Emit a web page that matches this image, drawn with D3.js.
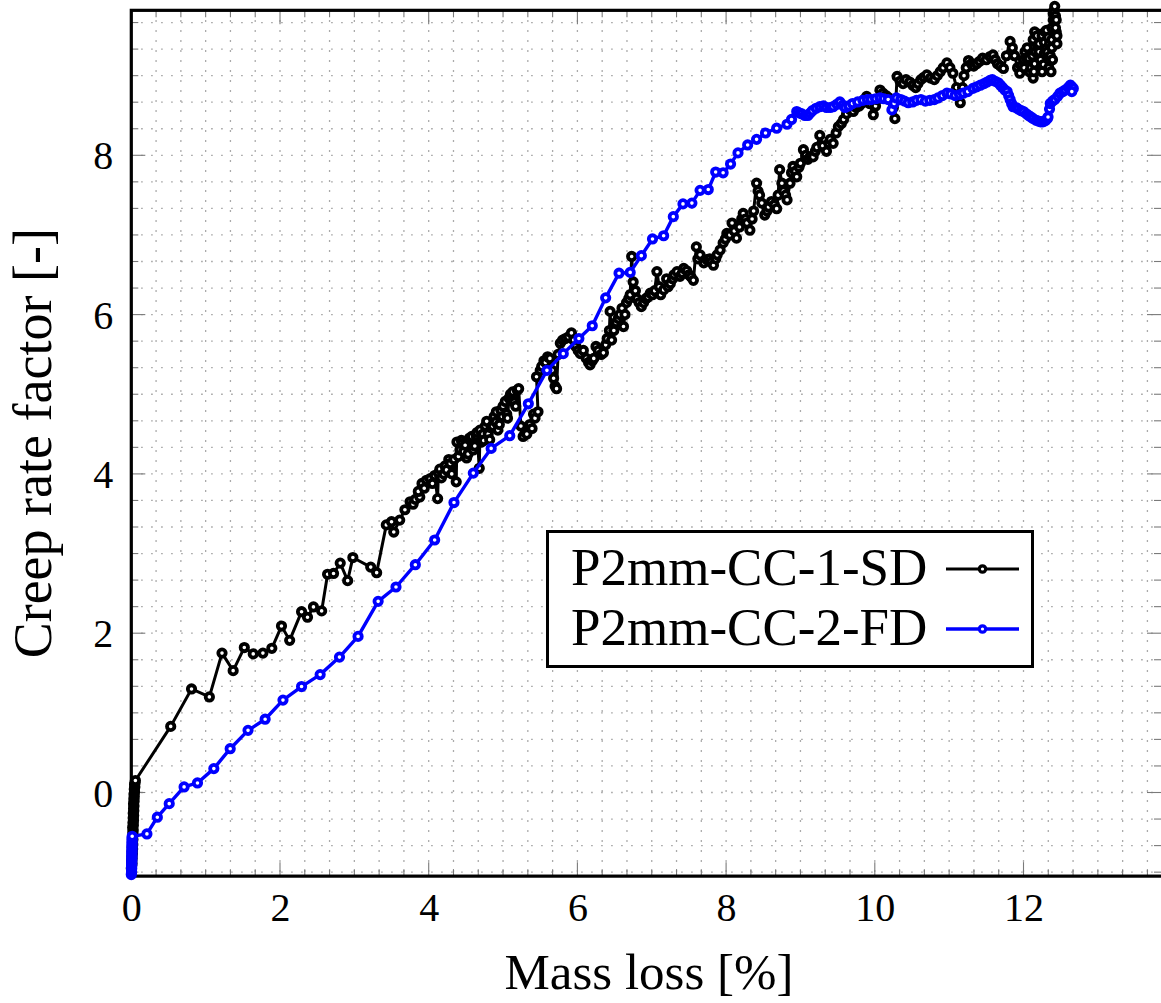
<!DOCTYPE html>
<html><head><meta charset="utf-8">
<script src="https://cdn.jsdelivr.net/npm/d3@7"></script>
<style>
html,body{margin:0;padding:0;background:#fff;}
svg{display:block;}
text{font-family:"Liberation Serif","Times New Roman",serif;fill:#000;}
</style></head>
<body>
<svg id="chart" width="1161" height="1003"></svg>
<script>
// ---------- data ----------
const seriesNames = ["P2mm-CC-1-SD", "P2mm-CC-2-FD"];
const seriesColors = ["#000000", "#0000ff"];
const xTickValues = [0, 2, 4, 6, 8, 10, 12];
const yTickValues = [0, 2, 4, 6, 8];
const xLabel = "Mass loss [%]";
const yLabel = "Creep rate factor [-]";

// Series 1 (black): [mass loss %, creep rate factor]
const sdPoints = [
[0,-0.95],[0.005,-0.92],[0.01,-0.89],[0.004,-0.86],[0.012,-0.83],[0.008,-0.80],[0.015,-0.77],[0.01,-0.74],[0.018,-0.71],[0.012,-0.68],[0.02,-0.65],[0.015,-0.62],[0.022,-0.59],[0.016,-0.56],[0.024,-0.53],[0.02,-0.50],[0.026,-0.47],[0.018,-0.44],[0.028,-0.41],[0.022,-0.38],[0.03,-0.35],[0.025,-0.32],[0.032,-0.29],[0.026,-0.26],[0.034,-0.23],[0.03,-0.20],[0.036,-0.17],[0.03,-0.14],[0.038,-0.11],[0.034,-0.08],[0.04,-0.05],[0.036,-0.02],[0.044,0.01],[0.04,0.04],[0.048,0.07],[0.044,0.10],[0.05,0.12],[0.055,0.15],
[0.53,0.83],[0.81,1.30],[1.05,1.20],[1.22,1.75],[1.37,1.53],[1.52,1.82],[1.64,1.74],[1.77,1.75],[1.89,1.81],[2.02,2.09],[2.13,1.91],[2.29,2.27],[2.37,2.20],[2.45,2.33],[2.56,2.28],[2.64,2.74],[2.72,2.75],[2.81,2.88],[2.91,2.66],[2.98,2.95],[3.22,2.83],[3.30,2.76],[3.43,3.36],[3.50,3.40],[3.53,3.27],[3.61,3.42],
[3.68,3.55],[3.75,3.65],[3.79,3.62],[3.82,3.68],[3.88,3.71],[3.86,3.78],[3.91,3.88],[3.94,3.82],[3.97,3.92],[4.02,3.94],[4.05,3.88],[4.08,3.98],[4.12,3.69],[4.13,4.01],[4.15,4.06],[4.17,3.95],[4.20,4.00],[4.22,4.10],[4.24,4.05],[4.27,4.18],[4.29,4.13],[4.31,4.0],[4.34,4.18],[4.37,3.90],[4.38,4.40],[4.40,4.22],[4.42,4.30],[4.44,4.42],[4.45,4.38],[4.47,4.28],[4.49,4.36],[4.51,4.20],[4.53,4.25],[4.55,4.45],[4.58,4.47],[4.60,4.30],[4.62,4.35],[4.64,4.48],[4.65,4.52],[4.68,4.07],[4.69,4.55],[4.71,4.40],[4.73,4.50],[4.74,4.42],[4.76,4.60],[4.78,4.66],[4.80,4.50],[4.82,4.43],[4.84,4.58],[4.86,4.60],[4.88,4.72],[4.90,4.65],[4.91,4.78],[4.93,4.55],[4.95,4.62],[4.97,4.80],[4.99,4.72],[5.00,4.85],[5.03,4.91],[5.05,4.75],[5.06,4.70],[5.08,4.95],[5.10,5.00],[5.12,4.92],[5.13,5.03],[5.15,4.90],[5.17,4.85],[5.19,5.05],[5.21,5.07],[5.24,4.60],[5.27,4.47],[5.30,4.52],[5.32,4.50],[5.36,4.62],[5.39,4.57],[5.41,4.75],[5.43,4.70],[5.47,4.78],[5.45,5.22],[5.50,5.30],[5.52,5.35],[5.55,5.42],[5.57,5.40],[5.60,5.47],[5.63,5.45],[5.66,5.30],[5.68,5.20],[5.70,5.10],[5.72,5.07],[5.74,5.50],[5.77,5.64],[5.80,5.68],[5.84,5.70],[5.88,5.72],[5.92,5.77],[5.95,5.68],[5.98,5.60],[6.01,5.55],[6.04,5.51],[6.08,5.55],[6.12,5.45],[6.15,5.40],[6.17,5.37],[6.20,5.42],[6.22,5.45],[6.25,5.60],[6.28,5.55],[6.32,5.50],[6.35,5.52],[6.38,5.62],[6.40,5.70],[6.43,5.80],[6.44,6.04],[6.46,5.68],[6.49,5.80],[6.52,5.90],[6.55,5.95],[6.57,6.00],[6.60,6.08],[6.62,5.85],[6.64,6.00],[6.66,6.15],[6.69,6.20],[6.71,6.25],[6.73,6.73],[6.75,6.41],[6.78,6.30],[6.80,6.20],[6.83,6.15],[6.86,6.10],[6.89,6.15],[6.92,6.20],[6.95,6.22],[6.98,6.27],[7.01,6.25],[7.04,6.30],[7.07,6.54],[7.10,6.35],[7.12,6.25],[7.16,6.31],[7.20,6.45],[7.22,6.35],[7.25,6.39],[7.28,6.45],[7.30,6.50],[7.34,6.54],[7.38,6.48],[7.41,6.52],[7.43,6.58],[7.47,6.55],[7.50,6.50],[7.53,6.47],[7.56,6.43],[7.60,6.85],[7.62,6.70],[7.65,6.75],[7.70,6.65],[7.74,6.69],[7.78,6.70],[7.80,6.66],[7.83,6.62],[7.86,6.70],[7.88,6.75],[7.92,6.81],[7.96,6.90],[7.99,6.95],[8.01,7.02],[8.05,7.00],[8.08,7.15],[8.11,7.05],[8.14,6.96],[8.18,7.10],[8.21,7.20],[8.23,7.27],[8.26,7.20],[8.28,7.15],[8.32,7.06],[8.35,7.20],[8.37,7.30],[8.41,7.65],[8.43,7.55],[8.45,7.50],[8.48,7.40],[8.52,7.25],[8.55,7.30],[8.57,7.35],[8.61,7.42],[8.65,7.38],[8.68,7.33],[8.70,7.50],[8.72,7.82],[8.75,7.65],[8.77,7.55],[8.80,7.50],[8.82,7.44],[8.86,7.65],[8.88,7.78],[8.90,7.86],[8.93,7.80],[8.95,7.73],[8.98,7.85],[9.00,7.90],[9.04,8.07],[9.07,8.00],[9.10,7.95],[9.13,7.98],[9.17,7.98],[9.20,8.05],[9.22,8.10],[9.26,8.25],[9.30,8.12],[9.35,8.05],[9.38,8.15],[9.40,8.20],[9.44,8.15],[9.48,8.28],[9.51,8.36],[9.55,8.40],[9.58,8.45],[9.62,8.52],[9.67,8.57],[9.71,8.55],[9.75,8.60],[9.79,8.62],[9.82,8.65],[9.86,8.70],[9.89,8.74],[9.93,8.65],[9.98,8.51],[10.01,8.62],[10.03,8.70],[10.07,8.82],[10.11,8.78],[10.15,8.75],[10.19,8.72],[10.22,8.70],[10.25,8.60],[10.27,8.46],[10.30,8.99],[10.34,8.93],[10.38,8.90],[10.42,8.95],[10.47,8.92],[10.51,8.88],[10.55,8.85],[10.58,8.90],[10.62,8.95],[10.66,8.98],[10.70,9.01],[10.75,8.97],[10.80,8.95],[10.84,9.00],[10.88,9.05],[10.92,9.10],[10.97,9.16],[11.01,9.10],[11.05,9.03],[11.10,8.85],[11.15,8.66],[11.18,8.85],[11.20,9.00],[11.23,9.10],[11.26,9.19],[11.30,9.15],[11.33,9.12],[11.37,9.15],[11.41,9.18],[11.45,9.22],[11.50,9.20],[11.55,9.24],[11.59,9.26],[11.62,9.20],[11.65,9.15],[11.69,9.12],[11.73,9.09],[11.77,9.25],[11.82,9.43],[11.85,9.35],[11.88,9.25],[11.92,9.10],[11.95,9.03],[11.97,9.12],[12.00,9.20],[12.01,9.10],[12.02,9.30],[12.04,9.22],[12.05,9.35],[12.07,9.22],[12.08,9.05],[12.10,9.10],[12.12,9.25],[12.13,8.97],[12.14,9.05],[12.15,9.15],[12.16,9.30],[12.18,9.40],[12.20,9.45],[12.21,9.30],[12.23,9.20],[12.24,9.12],[12.25,9.05],[12.27,9.14],[12.28,9.28],[12.30,9.35],[12.26,9.45],[12.22,9.52],[12.17,9.48],[12.13,9.45],[12.15,9.55],[12.18,9.50],[12.21,9.40],[12.25,9.50],[12.28,9.42],[12.29,9.55],[12.31,9.57],[12.32,9.30],[12.33,9.48],[12.34,9.20],[12.35,9.40],[12.36,9.25],[12.34,9.10],[12.37,9.05],[12.39,9.20],[12.38,9.35],[12.38,9.45],[12.38,9.60],[12.40,9.70],[12.40,9.78],[12.41,9.82],[12.42,9.87],[12.43,9.75],[12.44,9.55],[12.45,9.40],[12.43,9.60],[12.44,9.70],[12.45,9.50]
];

// Series 2 (blue): [mass loss %, creep rate factor]
const fdPoints = [
[0,-1.03],[0.002,-1.01],[0.004,-0.99],[0.003,-0.97],[0.006,-0.95],[0.004,-0.93],[0.005,-0.91],[0.007,-0.89],[0.005,-0.87],[0.008,-0.85],[0.006,-0.83],[0.007,-0.81],[0.009,-0.79],[0.007,-0.77],[0.008,-0.75],[0.01,-0.73],[0.008,-0.71],[0.009,-0.69],[0.011,-0.67],[0.009,-0.65],[0.01,-0.63],[0.012,-0.61],[0.01,-0.59],[0.011,-0.57],[0.012,-0.55],
[0.21,-0.52],[0.35,-0.31],[0.51,-0.14],[0.71,0.07],[0.89,0.12],[1.11,0.30],[1.33,0.55],[1.57,0.78],[1.80,0.92],[2.04,1.16],[2.29,1.33],[2.54,1.48],[2.80,1.70],[3.05,1.96],[3.32,2.40],[3.56,2.58],[3.82,2.86],[4.08,3.17],[4.34,3.64],[4.60,4.01],[4.84,4.32],[5.09,4.48],[5.34,4.88],[5.59,5.30],[5.81,5.51],[6.02,5.70],[6.20,5.86],[6.38,6.21],[6.56,6.52],[6.71,6.53],[6.86,6.74],[7.01,6.95],[7.16,6.99],[7.29,7.23],[7.42,7.39],[7.54,7.40],[7.65,7.56],[7.76,7.57],[7.86,7.79],[7.96,7.78],[8.06,7.89],[8.16,8.03],[8.29,8.13],[8.41,8.20],[8.53,8.28],[8.68,8.34],[8.82,8.39],
[8.88,8.45],[8.95,8.55],[8.99,8.53],[9.02,8.52],[9.06,8.50],[9.10,8.50],[9.13,8.53],[9.16,8.56],[9.21,8.59],[9.26,8.61],[9.31,8.62],[9.35,8.60],[9.40,8.60],[9.44,8.61],[9.49,8.64],[9.53,8.67],[9.57,8.63],[9.60,8.60],[9.65,8.62],[9.70,8.65],[9.77,8.67],[9.84,8.69],[9.90,8.70],[9.95,8.70],[10.01,8.71],[10.07,8.72],[10.12,8.71],[10.18,8.70],[10.23,8.57],[10.26,8.65],[10.29,8.72],[10.35,8.70],[10.40,8.68],[10.45,8.66],[10.51,8.67],[10.56,8.69],[10.62,8.70],[10.68,8.68],[10.74,8.69],[10.80,8.70],[10.85,8.72],[10.91,8.75],[10.97,8.78],[11.02,8.77],[11.08,8.75],[11.14,8.76],[11.19,8.78],[11.25,8.80],[11.32,8.84],[11.37,8.86],[11.42,8.88],[11.47,8.90],[11.51,8.92],[11.55,8.94],[11.58,8.95],[11.62,8.93],[11.66,8.91],[11.69,8.88],[11.72,8.85],[11.75,8.82],[11.78,8.80],[11.80,8.75],[11.82,8.70],[11.84,8.65],[11.86,8.61],[11.90,8.60],[11.93,8.58],[11.97,8.56],[12.00,8.55],[12.04,8.52],[12.07,8.50],[12.10,8.48],[12.13,8.46],[12.17,8.44],[12.20,8.43],[12.23,8.42],[12.26,8.42],[12.28,8.43],[12.30,8.44],[12.32,8.46],[12.33,8.48],[12.35,8.58],[12.36,8.65],[12.39,8.68],[12.42,8.70],[12.46,8.74],[12.49,8.78],[12.53,8.80],[12.56,8.82],[12.60,8.85],[12.63,8.88],[12.65,8.86],[12.67,8.84],[12.65,8.80]
];

// ---------- layout ----------
const X0 = 131.3, PX_PER_X = 74.35;
const Y0 = 792.5, PX_PER_Y = 79.65;
const xMin = 0, xMax = 13.95, yMin = -1.05, yMax = 9.82;

const svg = d3.select("#chart");
const x = d3.scaleLinear().domain([xMin, xMax]).range([X0, X0 + (xMax - xMin) * PX_PER_X]);
const y = d3.scaleLinear().domain([yMin, yMax]).range([Y0 - yMin * PX_PER_Y, Y0 - yMax * PX_PER_Y]);
const L = x(xMin), R = x(xMax), B = y(yMin), T = y(yMax);

// minor positions (every 1/3)
const xMinor = d3.range(0, 42).map(k => k / 3).filter(v => v <= xMax);
const yMinor = d3.range(-3, 30).map(k => k / 3).filter(v => v >= yMin && v <= yMax);

// dotted grid
const grid = svg.append("g");
grid.selectAll("line.gx").data(xMinor).join("line")
  .attr("x1", d => x(d)).attr("x2", d => x(d)).attr("y1", T).attr("y2", B)
  .attr("stroke", "#8f8f8f").attr("stroke-width", 1.3).attr("stroke-dasharray", "1.3,8.7");
grid.selectAll("line.gy").data(yMinor).join("line")
  .attr("y1", d => y(d)).attr("y2", d => y(d)).attr("x1", L).attr("x2", R)
  .attr("stroke", "#8f8f8f").attr("stroke-width", 1.3).attr("stroke-dasharray", "1.3,8.7");

// inner ticks on all sides
const isMajor = v => Math.abs(v - Math.round(v)) < 1e-6 && Math.round(v) % 2 === 0;
const tk = svg.append("g").attr("stroke", "#7a7a7a").attr("stroke-width", 1.1);
xMinor.forEach(v => {
  const len = isMajor(v) ? 14 : 7;
  tk.append("line").attr("x1", x(v)).attr("x2", x(v)).attr("y1", B).attr("y2", B - len);
  tk.append("line").attr("x1", x(v)).attr("x2", x(v)).attr("y1", T).attr("y2", T + len);
});
yMinor.forEach(v => {
  const len = isMajor(v) ? 14 : 7;
  tk.append("line").attr("y1", y(v)).attr("y2", y(v)).attr("x1", L).attr("x2", L + len);
  tk.append("line").attr("y1", y(v)).attr("y2", y(v)).attr("x1", 1161).attr("x2", 1161 - len);
});

// frame (beneath the data)
svg.append("rect").attr("x", L).attr("y", T).attr("width", R - L).attr("height", B - T)
  .attr("fill", "none").attr("stroke", "#000").attr("stroke-width", 3.2);

// tick labels via d3 axes
const xAxis = d3.axisBottom(x).tickValues(xTickValues).tickFormat(d3.format("d")).tickSize(0).tickPadding(0);
const gx = svg.append("g").attr("transform", `translate(0,${B})`).call(xAxis);
gx.select(".domain").remove();
gx.selectAll("text").attr("font-size", 40).attr("dy", null).attr("y", 45)
  .style("font-family", '"Liberation Serif",serif').attr("fill", "#000");

const yAxis = d3.axisLeft(y).tickValues(yTickValues).tickFormat(d3.format("d")).tickSize(0).tickPadding(0);
const gy = svg.append("g").attr("transform", `translate(${L},0)`).call(yAxis);
gy.select(".domain").remove();
gy.selectAll("text").attr("font-size", 40).attr("x", -18).attr("dy", "0.34em")
  .style("font-family", '"Liberation Serif",serif').attr("fill", "#000");

// axis titles
svg.append("text").attr("x", 649).attr("y", 989).attr("text-anchor", "middle")
  .attr("font-size", 51).text(xLabel);
svg.append("text").attr("transform", `translate(51,${(T + B) / 2}) rotate(-90)`)
  .attr("text-anchor", "middle").attr("font-size", 54).text(yLabel);

// data series
const series = [
  { name: seriesNames[0], color: seriesColors[0], pts: sdPoints, lw: 3.0 },
  { name: seriesNames[1], color: seriesColors[1], pts: fdPoints, lw: 3.4 }
];
const MR = 3.7, MSW = 3.8;
const line = d3.line().x(d => x(d[0])).y(d => y(d[1]));
const plot = svg.append("g");
series.forEach(s => {
  const g = plot.append("g");
  g.append("path").datum(s.pts).attr("d", line).attr("fill", "none")
    .attr("stroke", s.color).attr("stroke-width", s.lw).attr("stroke-linejoin", "round");
  g.selectAll("circle").data(s.pts).join("circle")
    .attr("cx", d => x(d[0])).attr("cy", d => y(d[1])).attr("r", MR)
    .attr("fill", "#fff").attr("stroke", s.color).attr("stroke-width", MSW);
});

// legend
const lg = svg.append("g");
lg.append("rect").attr("x", 547.5).attr("y", 531.5).attr("width", 485).attr("height", 135)
  .attr("fill", "#fff").attr("stroke", "#000").attr("stroke-width", 3);
series.forEach((s, i) => {
  const yl = [569, 629][i];
  lg.append("text").attr("x", 571).attr("y", [585, 645][i]).attr("font-size", 53).text(s.name);
  lg.append("line").attr("x1", 946).attr("x2", 1019).attr("y1", yl).attr("y2", yl)
    .attr("stroke", s.color).attr("stroke-width", s.lw);
  lg.append("circle").attr("cx", 982.5).attr("cy", yl).attr("r", 3.2)
    .attr("fill", "#fff").attr("stroke", s.color).attr("stroke-width", 3.2);
});
</script>
</body></html>
